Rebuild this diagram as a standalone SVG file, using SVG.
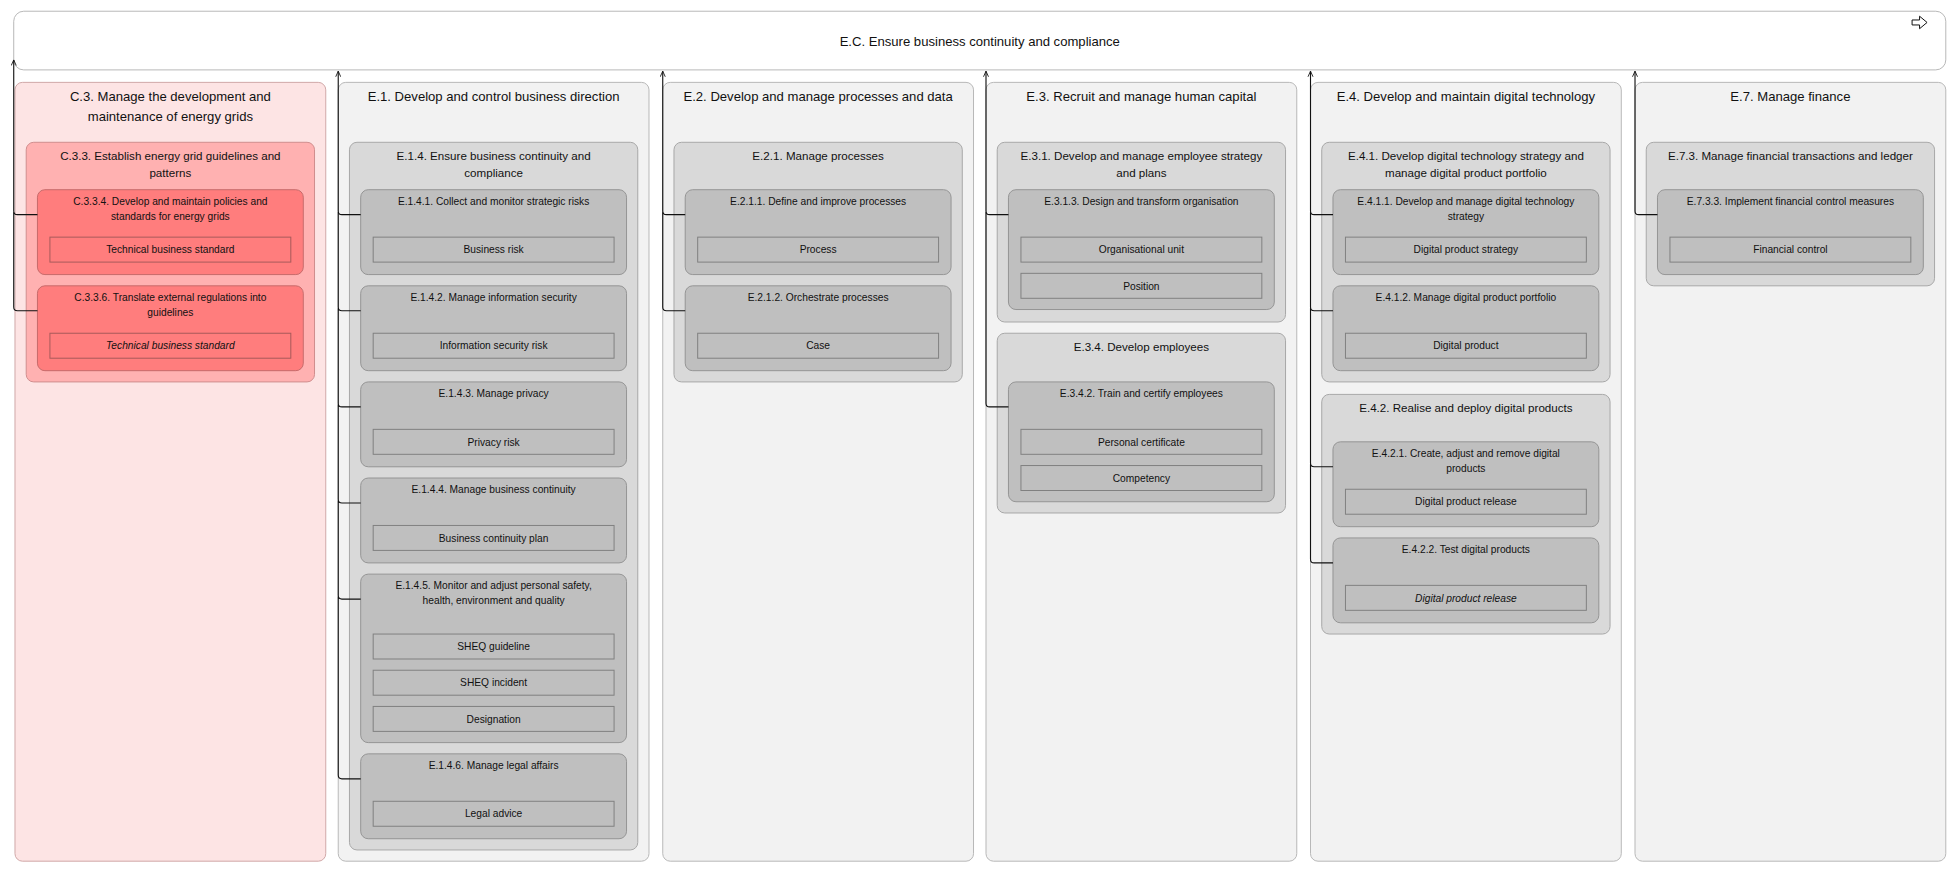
<svg xmlns="http://www.w3.org/2000/svg" width="1957" height="873" viewBox="0 0 1957 873">
<style>
text{font-family:"Liberation Sans",Arial,sans-serif;fill:#111;text-anchor:middle}
.t0{font-size:10.5px}.t1{font-size:10.5px}.t2{font-size:9.3px}.t3{font-size:8.2px}.t4{font-size:8.2px}
.i{font-style:italic}
.col{fill:#f2f2f2;stroke:#b8b8b8;stroke-width:0.8}
.l2{fill:#d9d9d9;stroke:#a8a8a8;stroke-width:0.8}
.l3{fill:#bfbfbf;stroke:#959595;stroke-width:0.8}
.a{fill:#bfbfbf;stroke:#808080;stroke-width:0.8}
.r .col{fill:#fde4e4;stroke:#d0a8a8}
.r .l2{fill:#ffb1b1;stroke:#d08e8e}
.r .l3{fill:#ff7d7d;stroke:#c76a6a}
.r .a{fill:#ff7d7d;stroke:#a85a5a}
.c{fill:none;stroke:#111;stroke-width:0.9}
</style>
<defs><marker id="ar" viewBox="0 0 10 10" refX="5" refY="1" markerWidth="6" markerHeight="6" orient="auto-start-reverse" markerUnits="userSpaceOnUse"><path d="M1,8 L5,1 L9,8" fill="none" stroke="#111" stroke-width="1.2"/></marker>
<marker id="au" viewBox="0 0 10 10" refX="5" refY="0" markerWidth="5" markerHeight="7" orient="0" markerUnits="userSpaceOnUse"><path d="M1,9 L5,0 L9,9" fill="none" stroke="#111" stroke-width="1.4"/></marker></defs>
<g transform="scale(1.2481)">
<g id="EC"><rect x="11" y="9" width="1548" height="47" rx="8" fill="#fff" stroke="#b8b8b8" stroke-width="0.8"/><text class="t0" x="785" y="37">E.C. Ensure business continuity and compliance</text><path d="M1532,16 h6 v-3 l6,5 l-6,5 v-3 h-6 z" fill="#fff" stroke="#111" stroke-width="0.8"/></g>

<g id="C3" class="r"><rect class="col" x="12" y="66" width="249" height="624" rx="6"/><text class="t1" x="136.5" y="81">C.3. Manage the development and</text><text class="t1" x="136.5" y="97">maintenance of energy grids</text>
<g id="C33"><rect class="l2" x="21" y="114" width="231" height="192" rx="6"/><text class="t2" x="136.5" y="128.5">C.3.3. Establish energy grid guidelines and</text><text class="t2" x="136.5" y="141.5">patterns</text>
<g id="C334"><rect class="l3" x="30" y="152" width="213" height="68" rx="6"/><text class="t3" x="136.5" y="164">C.3.3.4. Develop and maintain policies and</text><text class="t3" x="136.5" y="176">standards for energy grids</text><rect class="a" x="40" y="190" width="193" height="20"/><text class="t4" x="136.5" y="203">Technical business standard</text></g>
<g id="C336"><rect class="l3" x="30" y="229" width="213" height="68" rx="6"/><text class="t3" x="136.5" y="241">C.3.3.6. Translate external regulations into</text><text class="t3" x="136.5" y="253">guidelines</text><rect class="a" x="40" y="267" width="193" height="20"/><text class="t4 i" x="136.5" y="280">Technical business standard</text></g></g></g>

<g id="E1"><rect class="col" x="271" y="66" width="249" height="624" rx="6"/><text class="t1" x="395.5" y="81">E.1. Develop and control business direction</text>
<g id="E14"><rect class="l2" x="280" y="114" width="231" height="567" rx="6"/><text class="t2" x="395.5" y="128.5">E.1.4. Ensure business continuity and</text><text class="t2" x="395.5" y="141.5">compliance</text>
<g id="E141"><rect class="l3" x="289" y="152" width="213" height="68" rx="6"/><text class="t3" x="395.5" y="164">E.1.4.1. Collect and monitor strategic risks</text><rect class="a" x="299" y="190" width="193" height="20"/><text class="t4" x="395.5" y="203">Business risk</text></g>
<g id="E142"><rect class="l3" x="289" y="229" width="213" height="68" rx="6"/><text class="t3" x="395.5" y="241">E.1.4.2. Manage information security</text><rect class="a" x="299" y="267" width="193" height="20"/><text class="t4" x="395.5" y="280">Information security risk</text></g>
<g id="E143"><rect class="l3" x="289" y="306" width="213" height="68" rx="6"/><text class="t3" x="395.5" y="318">E.1.4.3. Manage privacy</text><rect class="a" x="299" y="344" width="193" height="20"/><text class="t4" x="395.5" y="357">Privacy risk</text></g>
<g id="E144"><rect class="l3" x="289" y="383" width="213" height="68" rx="6"/><text class="t3" x="395.5" y="395">E.1.4.4. Manage business continuity</text><rect class="a" x="299" y="421" width="193" height="20"/><text class="t4" x="395.5" y="434">Business continuity plan</text></g>
<g id="E145"><rect class="l3" x="289" y="460" width="213" height="135" rx="6"/><text class="t3" x="395.5" y="472">E.1.4.5. Monitor and adjust personal safety,</text><text class="t3" x="395.5" y="484">health, environment and quality</text><rect class="a" x="299" y="508" width="193" height="20"/><text class="t4" x="395.5" y="521">SHEQ guideline</text><rect class="a" x="299" y="537" width="193" height="20"/><text class="t4" x="395.5" y="550">SHEQ incident</text><rect class="a" x="299" y="566" width="193" height="20"/><text class="t4" x="395.5" y="579">Designation</text></g>
<g id="E146"><rect class="l3" x="289" y="604" width="213" height="68" rx="6"/><text class="t3" x="395.5" y="616">E.1.4.6. Manage legal affairs</text><rect class="a" x="299" y="642" width="193" height="20"/><text class="t4" x="395.5" y="655">Legal advice</text></g></g></g>

<g id="E2"><rect class="col" x="531" y="66" width="249" height="624" rx="6"/><text class="t1" x="655.5" y="81">E.2. Develop and manage processes and data</text>
<g id="E21"><rect class="l2" x="540" y="114" width="231" height="192" rx="6"/><text class="t2" x="655.5" y="128.5">E.2.1. Manage processes</text>
<g id="E211"><rect class="l3" x="549" y="152" width="213" height="68" rx="6"/><text class="t3" x="655.5" y="164">E.2.1.1. Define and improve processes</text><rect class="a" x="559" y="190" width="193" height="20"/><text class="t4" x="655.5" y="203">Process</text></g>
<g id="E212"><rect class="l3" x="549" y="229" width="213" height="68" rx="6"/><text class="t3" x="655.5" y="241">E.2.1.2. Orchestrate processes</text><rect class="a" x="559" y="267" width="193" height="20"/><text class="t4" x="655.5" y="280">Case</text></g></g></g>

<g id="E3"><rect class="col" x="790" y="66" width="249" height="624" rx="6"/><text class="t1" x="914.5" y="81">E.3. Recruit and manage human capital</text>
<g id="E31"><rect class="l2" x="799" y="114" width="231" height="144" rx="6"/><text class="t2" x="914.5" y="128.5">E.3.1. Develop and manage employee strategy</text><text class="t2" x="914.5" y="141.5">and plans</text>
<g id="E313"><rect class="l3" x="808" y="152" width="213" height="96" rx="6"/><text class="t3" x="914.5" y="164">E.3.1.3. Design and transform organisation</text><rect class="a" x="818" y="190" width="193" height="20"/><text class="t4" x="914.5" y="203">Organisational unit</text><rect class="a" x="818" y="219" width="193" height="20"/><text class="t4" x="914.5" y="232">Position</text></g></g>
<g id="E34"><rect class="l2" x="799" y="267" width="231" height="144" rx="6"/><text class="t2" x="914.5" y="281.5">E.3.4. Develop employees</text>
<g id="E342"><rect class="l3" x="808" y="306" width="213" height="96" rx="6"/><text class="t3" x="914.5" y="318">E.3.4.2. Train and certify employees</text><rect class="a" x="818" y="344" width="193" height="20"/><text class="t4" x="914.5" y="357">Personal certificate</text><rect class="a" x="818" y="373" width="193" height="20"/><text class="t4" x="914.5" y="386">Competency</text></g></g></g>

<g id="E4"><rect class="col" x="1050" y="66" width="249" height="624" rx="6"/><text class="t1" x="1174.5" y="81">E.4. Develop and maintain digital technology</text>
<g id="E41"><rect class="l2" x="1059" y="114" width="231" height="192" rx="6"/><text class="t2" x="1174.5" y="128.5">E.4.1. Develop digital technology strategy and</text><text class="t2" x="1174.5" y="141.5">manage digital product portfolio</text>
<g id="E411"><rect class="l3" x="1068" y="152" width="213" height="68" rx="6"/><text class="t3" x="1174.5" y="164">E.4.1.1. Develop and manage digital technology</text><text class="t3" x="1174.5" y="176">strategy</text><rect class="a" x="1078" y="190" width="193" height="20"/><text class="t4" x="1174.5" y="203">Digital product strategy</text></g>
<g id="E412"><rect class="l3" x="1068" y="229" width="213" height="68" rx="6"/><text class="t3" x="1174.5" y="241">E.4.1.2. Manage digital product portfolio</text><rect class="a" x="1078" y="267" width="193" height="20"/><text class="t4" x="1174.5" y="280">Digital product</text></g></g>
<g id="E42"><rect class="l2" x="1059" y="316" width="231" height="192" rx="6"/><text class="t2" x="1174.5" y="330">E.4.2. Realise and deploy digital products</text>
<g id="E421"><rect class="l3" x="1068" y="354" width="213" height="68" rx="6"/><text class="t3" x="1174.5" y="366">E.4.2.1. Create, adjust and remove digital</text><text class="t3" x="1174.5" y="378">products</text><rect class="a" x="1078" y="392" width="193" height="20"/><text class="t4" x="1174.5" y="405">Digital product release</text></g>
<g id="E422"><rect class="l3" x="1068" y="431" width="213" height="68" rx="6"/><text class="t3" x="1174.5" y="443">E.4.2.2. Test digital products</text><rect class="a" x="1078" y="469" width="193" height="20"/><text class="t4 i" x="1174.5" y="482">Digital product release</text></g></g></g>

<g id="E7"><rect class="col" x="1310" y="66" width="249" height="624" rx="6"/><text class="t1" x="1434.5" y="81">E.7. Manage finance</text>
<g id="E73"><rect class="l2" x="1319" y="114" width="231" height="115" rx="6"/><text class="t2" x="1434.5" y="128.5">E.7.3. Manage financial transactions and ledger</text>
<g id="E733"><rect class="l3" x="1328" y="152" width="213" height="68" rx="6"/><text class="t3" x="1434.5" y="164">E.7.3.3. Implement financial control measures</text><rect class="a" x="1338" y="190" width="193" height="20"/><text class="t4" x="1434.5" y="203">Financial control</text></g></g></g>

<g id="connectors">
<path class="c" marker-end="url(#au)" d="M30,172 H14 Q11,172 11,169 V48"/>
<path class="c" d="M30,249 H14 Q11,249 11,246 V170"/>
<path class="c" marker-end="url(#au)" d="M289,172 H274 Q271,172 271,169 V57"/>
<path class="c" d="M289,249 H274 Q271,249 271,246 V170 M289,326 H274 Q271,326 271,323 V247 M289,403 H274 Q271,403 271,400 V324 M289,480 H274 Q271,480 271,477 V401 M289,624 H274 Q271,624 271,621 V478"/>
<path class="c" marker-end="url(#au)" d="M549,172 H534 Q531,172 531,169 V57"/>
<path class="c" d="M549,249 H534 Q531,249 531,246 V170"/>
<path class="c" marker-end="url(#au)" d="M808,172 H793 Q790,172 790,169 V57"/>
<path class="c" d="M808,326 H793 Q790,326 790,323 V170"/>
<path class="c" marker-end="url(#au)" d="M1068,172 H1053 Q1050,172 1050,169 V57"/>
<path class="c" d="M1068,249 H1053 Q1050,249 1050,246 V170 M1068,374 H1053 Q1050,374 1050,371 V247 M1068,451 H1053 Q1050,451 1050,448 V372"/>
<path class="c" marker-end="url(#au)" d="M1328,172 H1313 Q1310,172 1310,169 V57"/>
</g>
</g>
</svg>
